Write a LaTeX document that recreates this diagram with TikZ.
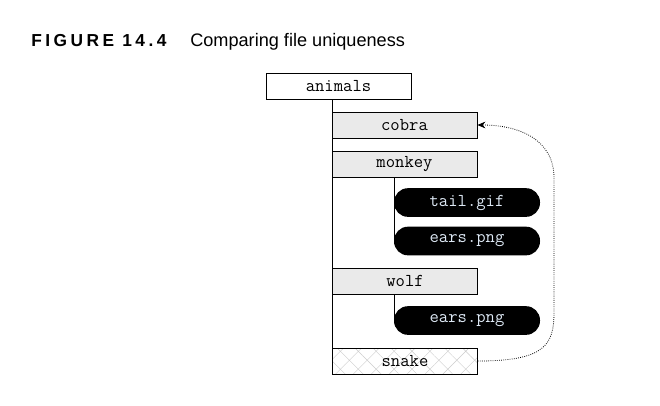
\documentclass[tikz,border=0pt]{standalone}
\usepackage{fontspec}
\setmainfont{Liberation Sans}
\newfontfamily\capfont[LetterSpace=20]{Liberation Sans Bold}
\usetikzlibrary{arrows.meta,patterns.meta}
\definecolor{boxgray}{HTML}{EAEAEA}
\definecolor{pilltext}{HTML}{DDE8F4}
\tikzset{
  codetext/.style={font=\ttfamily\fontsize{13.6}{14}\selectfont},
  dirbox/.style={draw, line width=0.6pt, fill=boxgray, minimum width=108.75pt, minimum height=19.5pt, inner sep=0pt, codetext},
  rootbox/.style={dirbox, fill=white},
  hatchbox/.style={draw, line width=0.6pt, preaction={fill=white}, pattern={Hatch[angle=45,distance=9.5pt,line width=0.3pt]}, pattern color=gray!40, minimum width=108.75pt, minimum height=19.5pt, inner sep=0pt, codetext},
  filepill/.style={fill=black, rounded corners=10.5pt, minimum width=109.5pt, minimum height=21.5pt, inner sep=0pt, text=pilltext, codetext},
  tree/.style={line width=0.6pt},
  link/.style={densely dotted, line width=0.6pt, -{Stealth[length=6pt,width=5pt]}}
}
\begin{document}
\begin{tikzpicture}[x=0.75pt,y=-0.75pt]
\useasboundingbox (0,0) rectangle (660,405);
\node[anchor=base west, inner sep=0pt, font=\capfont\fontsize{13}{14}\selectfont] (fig) at (31,46) {FIGURE 14.4};
\node[anchor=base west, inner sep=0pt, font=\fontsize{13.6}{15}\selectfont] (cap) at (190,46) {Comparing file uniqueness};
% tree trunks first
\coordinate (trunktop) at (332,100);
\coordinate (trunkbot) at (332,348);
\draw[tree] (trunktop) -- (trunkbot);
\coordinate (m1) at (394,177);
\coordinate (m2) at (394,241);
\draw[tree] (m1) -- (m2);
\coordinate (w1) at (394,294);
\coordinate (w2) at (394,320.5);
\draw[tree] (w1) -- (w2);
% boxes
\node[rootbox] (animals) at (338.5,86) {animals};
\node[dirbox] (cobra) at (404.5,125) {cobra};
\node[dirbox] (monkey) at (404.5,164) {monkey};
\node[filepill] (tail) at (467,202.5) {tail.gif};
\node[filepill] (ears1) at (467,241) {ears.png};
\node[dirbox] (wolf) at (405,281) {wolf};
\node[filepill] (ears2) at (467,320.5) {ears.png};
\node[hatchbox] (snake) at (405,361) {snake};
% dotted link
\draw[link] (snake.east) .. controls (545,361) and (554,345) .. (554,312) -- (554,178) .. controls (554,140) and (520,125) .. (cobra.east);
\end{tikzpicture}
\end{document}
